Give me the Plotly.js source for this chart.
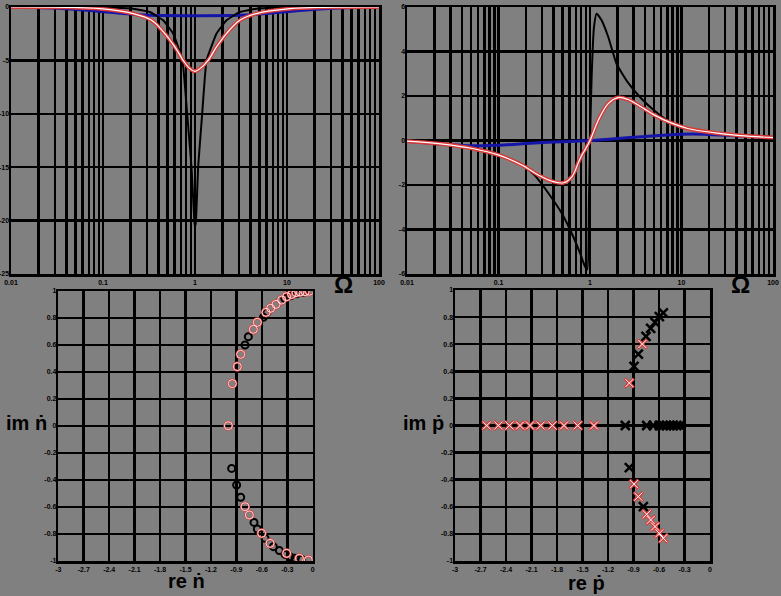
<!DOCTYPE html>
<html><head><meta charset="utf-8">
<script src="https://cdn.plot.ly/plotly-3.0.1.min.js"></script>
<style>html,body{margin:0;padding:0;background:#808080;}#g{width:781px;height:596px;}</style>
</head><body><div id="g"></div>
<script>
// ---- top-left panel (real part vs Omega) ----
const tlBlackW = [0.01,0.0927,0.213,0.324,0.451,0.579,0.731,0.822,0.916,0.984,1.0,1.025,1.081,1.197,1.334,1.714,2.198,3.069,4.656,10.72,100];
const tlBlackV = [0,-0.03,-0.16,-0.47,-1.25,-2.49,-5,-10,-15,-20,-20.6,-20,-15,-10,-5,-2.49,-1.25,-0.47,-0.16,-0.03,0];
const tlPinkW = [0.01,0.0403,0.0927,0.213,0.337,0.47,0.604,0.743,0.879,1.0,1.132,1.39,1.714,2.198,3.069,4.656,10.72,24.66,100];
const tlPinkV = [0,-0.03,-0.16,-0.62,-1.25,-2.49,-3.74,-4.99,-5.77,-6.02,-5.77,-4.99,-3.74,-2.49,-1.25,-0.62,-0.16,-0.03,0];
const tlBlueW = [0.01,0.0266,0.061,0.119,0.213,0.324,1.0,3.069,4.656,8.34,16.3,37.4,100];
const tlBlueV = [0,-0.09,-0.28,-0.5,-0.69,-0.78,-0.81,-0.78,-0.69,-0.5,-0.28,-0.09,0];
// ---- top-right panel (imaginary part vs Omega) ----
const trBlackW = [0.01,0.0246,0.052,0.101,0.182,0.253,0.353,0.493,0.633,0.780,0.883,0.936,0.975,1.0,1.042,1.105,1.18,1.339,1.583,1.95,2.605,3.636,5.075,7.69,11.67,26.9,100];
const trBlackV = [-0.03,-0.13,-0.33,-0.63,-1.08,-1.6,-2.38,-3.28,-4.18,-5.07,-5.67,-5.79,-2.68,0,2.86,5.1,5.7,5.4,4.65,3.45,2.6,1.89,1.34,0.8,0.54,0.31,0.16];
const trPinkW = [0.01,0.0246,0.052,0.101,0.182,0.275,0.384,0.514,0.633,0.780,1.0,1.231,1.583,2.03,2.605,3.636,5.075,7.69,11.67,26.9,44.3,100];
const trPinkV = [-0.03,-0.16,-0.36,-0.66,-1.11,-1.56,-1.83,-1.9,-1.63,-0.81,0,0.91,1.66,1.93,1.84,1.51,1.14,0.79,0.54,0.31,0.22,0.13];
const trBlueW = [0.01,0.0246,0.052,0.101,0.275,1.0,3.34,9.89,17.7,40.7,100];
const trBlueV = [-0.03,-0.16,-0.24,-0.21,-0.1,0,0.16,0.28,0.28,0.21,0.13];
// ---- bottom-left panel (n-dot roots) ----
const nRedRe = [-0.995,-0.948,-0.889,-0.849,-0.70,-0.653,-0.55,-0.495,-0.433,-0.366,-0.307,-0.248,-0.197,-0.149,-0.09,-0.04,-0.798,-0.747,-0.602,-0.503,-0.307,-0.157,-0.051];
const nRedIm = [0.002,0.314,0.44,0.531,0.716,0.768,0.842,0.872,0.901,0.933,0.958,0.975,0.988,0.993,0.995,0.998,-0.598,-0.659,-0.795,-0.869,-0.943,-0.98,-0.993];
const nBlackRe = [-0.798,-0.759,-0.582,-0.54,-0.33,-0.26,-0.19,-0.11,-0.956,-0.897,-0.849,-0.692,-0.653,-0.562,-0.464,-0.393,-0.326,-0.267,-0.208,-0.13];
const nBlackIm = [0.6,0.662,0.805,0.84,0.945,0.965,0.98,0.99,-0.314,-0.437,-0.528,-0.714,-0.763,-0.832,-0.894,-0.923,-0.951,-0.968,-0.98,-0.988];
// ---- bottom-right panel (p-dot roots) ----
const pRedRe = [-2.627,-2.49,-2.36,-2.235,-2.118,-1.992,-1.855,-1.718,-1.557,-1.365,-0.949,-0.796,-0.894,-0.843,-0.745,-0.698,-0.647,-0.596,-0.549];
const pRedIm = [0,0,0,0,0,0,0,0,0,0,0.313,0.601,-0.433,-0.525,-0.655,-0.697,-0.746,-0.796,-0.832];
const pBlackRe = [-0.996,-0.745,-0.667,-0.596,-0.549,-0.51,-0.47,-0.431,-0.392,-0.353,-0.894,-0.843,-0.753,-0.698,-0.647,-0.596,-0.549,-0.949,-0.784];
const pBlackIm = [0,0,0,0,0,0,0,0,0,0,0.436,0.527,0.658,0.717,0.761,0.803,0.832,-0.31,-0.599];
// ---- tick labels ----
const tlYTicks = [0,-5,-10,-15,-20,-25];
const tlYText = ['0','-5','-10','-15','-20','-25'];
const trYTicks = [6,4,2,0,-2,-4,-6];
const trYText = ['6','4','2','0','-2','-4','-6'];
const reTicks = [-3,-2.7,-2.4,-2.1,-1.8,-1.5,-1.2,-0.9,-0.6,-0.3,0];
const reText = ['-3','-2.7','-2.4','-2.1','-1.8','-1.5','-1.2','-0.9','-0.6','-0.3','0'];
const imTicks = [1,0.8,0.6,0.4,0.2,0,-0.2,-0.4,-0.6,-0.8,-1];
const imText = ['1','0.8','0.6','0.4','0.2','0','-0.2','-0.4','-0.6','-0.8','-1'];

const BLUE = '#1414a8', RED = '#d83a3a';
const tf = {family:'Liberation Sans, Arial, sans-serif', size:7, color:'black', weight:'bold'};
const gw = 2.5;
function logAx(dom, anchor){
  return {type:'log', domain:dom, anchor:anchor, range:[-2,2], dtick:1, showgrid:true, gridcolor:'black', gridwidth:gw,
    minor:{dtick:'D1', showgrid:true, gridcolor:'black', gridwidth:gw, ticks:''},
    showline:true, linecolor:'black', linewidth:2.5, mirror:true, ticks:'', tickfont:tf, zeroline:false, fixedrange:true};
}
function linAx(dom, anchor, rng, tv, tt, isY){
  const a = {domain:dom, anchor:anchor, range:rng, tickmode:'array', tickvals:tv, ticktext:tt, showgrid:true, gridcolor:'black', gridwidth:gw,
    showline:true, linecolor:'black', linewidth:2.5, mirror:true, ticks:'', tickfont:tf, zeroline:false, fixedrange:true};
  if (isY) a.ticklabelstandoff = -2;
  return a;
}
const traces = [
  {x:tlBlueW, y:tlBlueV, xaxis:'x', yaxis:'y', mode:'lines', line:{color:BLUE, width:3, shape:'spline'}},
  {x:tlBlackW, y:tlBlackV, xaxis:'x', yaxis:'y', mode:'lines', line:{color:'black', width:2, shape:'spline', smoothing:0.3}},
  {x:tlPinkW, y:tlPinkV, xaxis:'x', yaxis:'y', mode:'lines', line:{color:RED, width:4, shape:'spline'}},
  {x:tlPinkW, y:tlPinkV, xaxis:'x', yaxis:'y', mode:'lines', line:{color:'white', width:1.2, shape:'spline'}},
  {x:trBlueW, y:trBlueV, xaxis:'x2', yaxis:'y2', mode:'lines', line:{color:BLUE, width:3, shape:'spline'}},
  {x:trBlackW, y:trBlackV, xaxis:'x2', yaxis:'y2', mode:'lines', line:{color:'black', width:2, shape:'spline', smoothing:0.5}},
  {x:trPinkW, y:trPinkV, xaxis:'x2', yaxis:'y2', mode:'lines', line:{color:RED, width:4, shape:'spline'}},
  {x:trPinkW, y:trPinkV, xaxis:'x2', yaxis:'y2', mode:'lines', line:{color:'white', width:1.2, shape:'spline'}},
  {x:nBlackRe, y:nBlackIm, xaxis:'x3', yaxis:'y3', mode:'markers', marker:{symbol:'circle-open', size:7, color:'black', line:{width:2}}},
  {x:nRedRe, y:nRedIm, xaxis:'x3', yaxis:'y3', mode:'markers', marker:{symbol:'circle-open', size:8, color:RED, line:{width:2.2}}},
  {x:nRedRe, y:nRedIm, xaxis:'x3', yaxis:'y3', mode:'markers', marker:{symbol:'circle-open', size:8, color:'white', line:{width:0.8}}},
  {x:pBlackRe, y:pBlackIm, xaxis:'x4', yaxis:'y4', mode:'markers', marker:{symbol:'x-thin-open', size:9, color:'black', line:{width:2.5, color:'black'}}},
  {x:pRedRe, y:pRedIm, xaxis:'x4', yaxis:'y4', mode:'markers', marker:{symbol:'x-thin-open', size:9, color:RED, line:{width:3, color:RED}}},
  {x:pRedRe, y:pRedIm, xaxis:'x4', yaxis:'y4', mode:'markers', marker:{symbol:'x-thin-open', size:8, color:'white', line:{width:1, color:'white'}}}
];
const big = {family:'Liberation Sans, Arial, sans-serif', size:20, color:'black', weight:'bold'};
const W = 781, H = 596;
function ann(text, px, py, size){
  return {text:text, xref:'paper', yref:'paper', x:px/W, y:1-py/H, xanchor:'center', yanchor:'middle', showarrow:false,
    font:Object.assign({}, big, size?{size:size}:{})};
}
const layout = {
  width:W, height:H, margin:{l:0,r:0,t:0,b:0}, paper_bgcolor:'#808080', plot_bgcolor:'#808080', showlegend:false,
  xaxis: logAx([11/W, 379/W], 'y'),
  yaxis: linAx([1-274/H, 1-7/H], 'x', [-25,0], tlYTicks, tlYText, true),
  xaxis2: logAx([407/W, 773/W], 'y2'),
  yaxis2: linAx([1-274/H, 1-7/H], 'x2', [-6,6], trYTicks, trYText, true),
  xaxis3: linAx([58.3/W, 312.7/W], 'y3', [-3,0], reTicks, reText),
  yaxis3: linAx([1-561/H, 1-291/H], 'x3', [-1,1], imTicks, imText, true),
  xaxis4: linAx([455/W, 710/W], 'y4', [-3,0], reTicks, reText),
  yaxis4: linAx([1-561/H, 1-290/H], 'x4', [-1,1], imTicks, imText, true),
  annotations:[
    ann('Ω', 343, 284, 24), ann('Ω', 740, 284, 24),
    ann('im ṅ', 26, 423), ann('re ṅ', 186, 581),
    ann('im ṗ', 423, 423), ann('re ṗ', 586, 583)
  ]
};
Plotly.newPlot('g', traces, layout, {displayModeBar:false, staticPlot:true});
</script></body></html>
